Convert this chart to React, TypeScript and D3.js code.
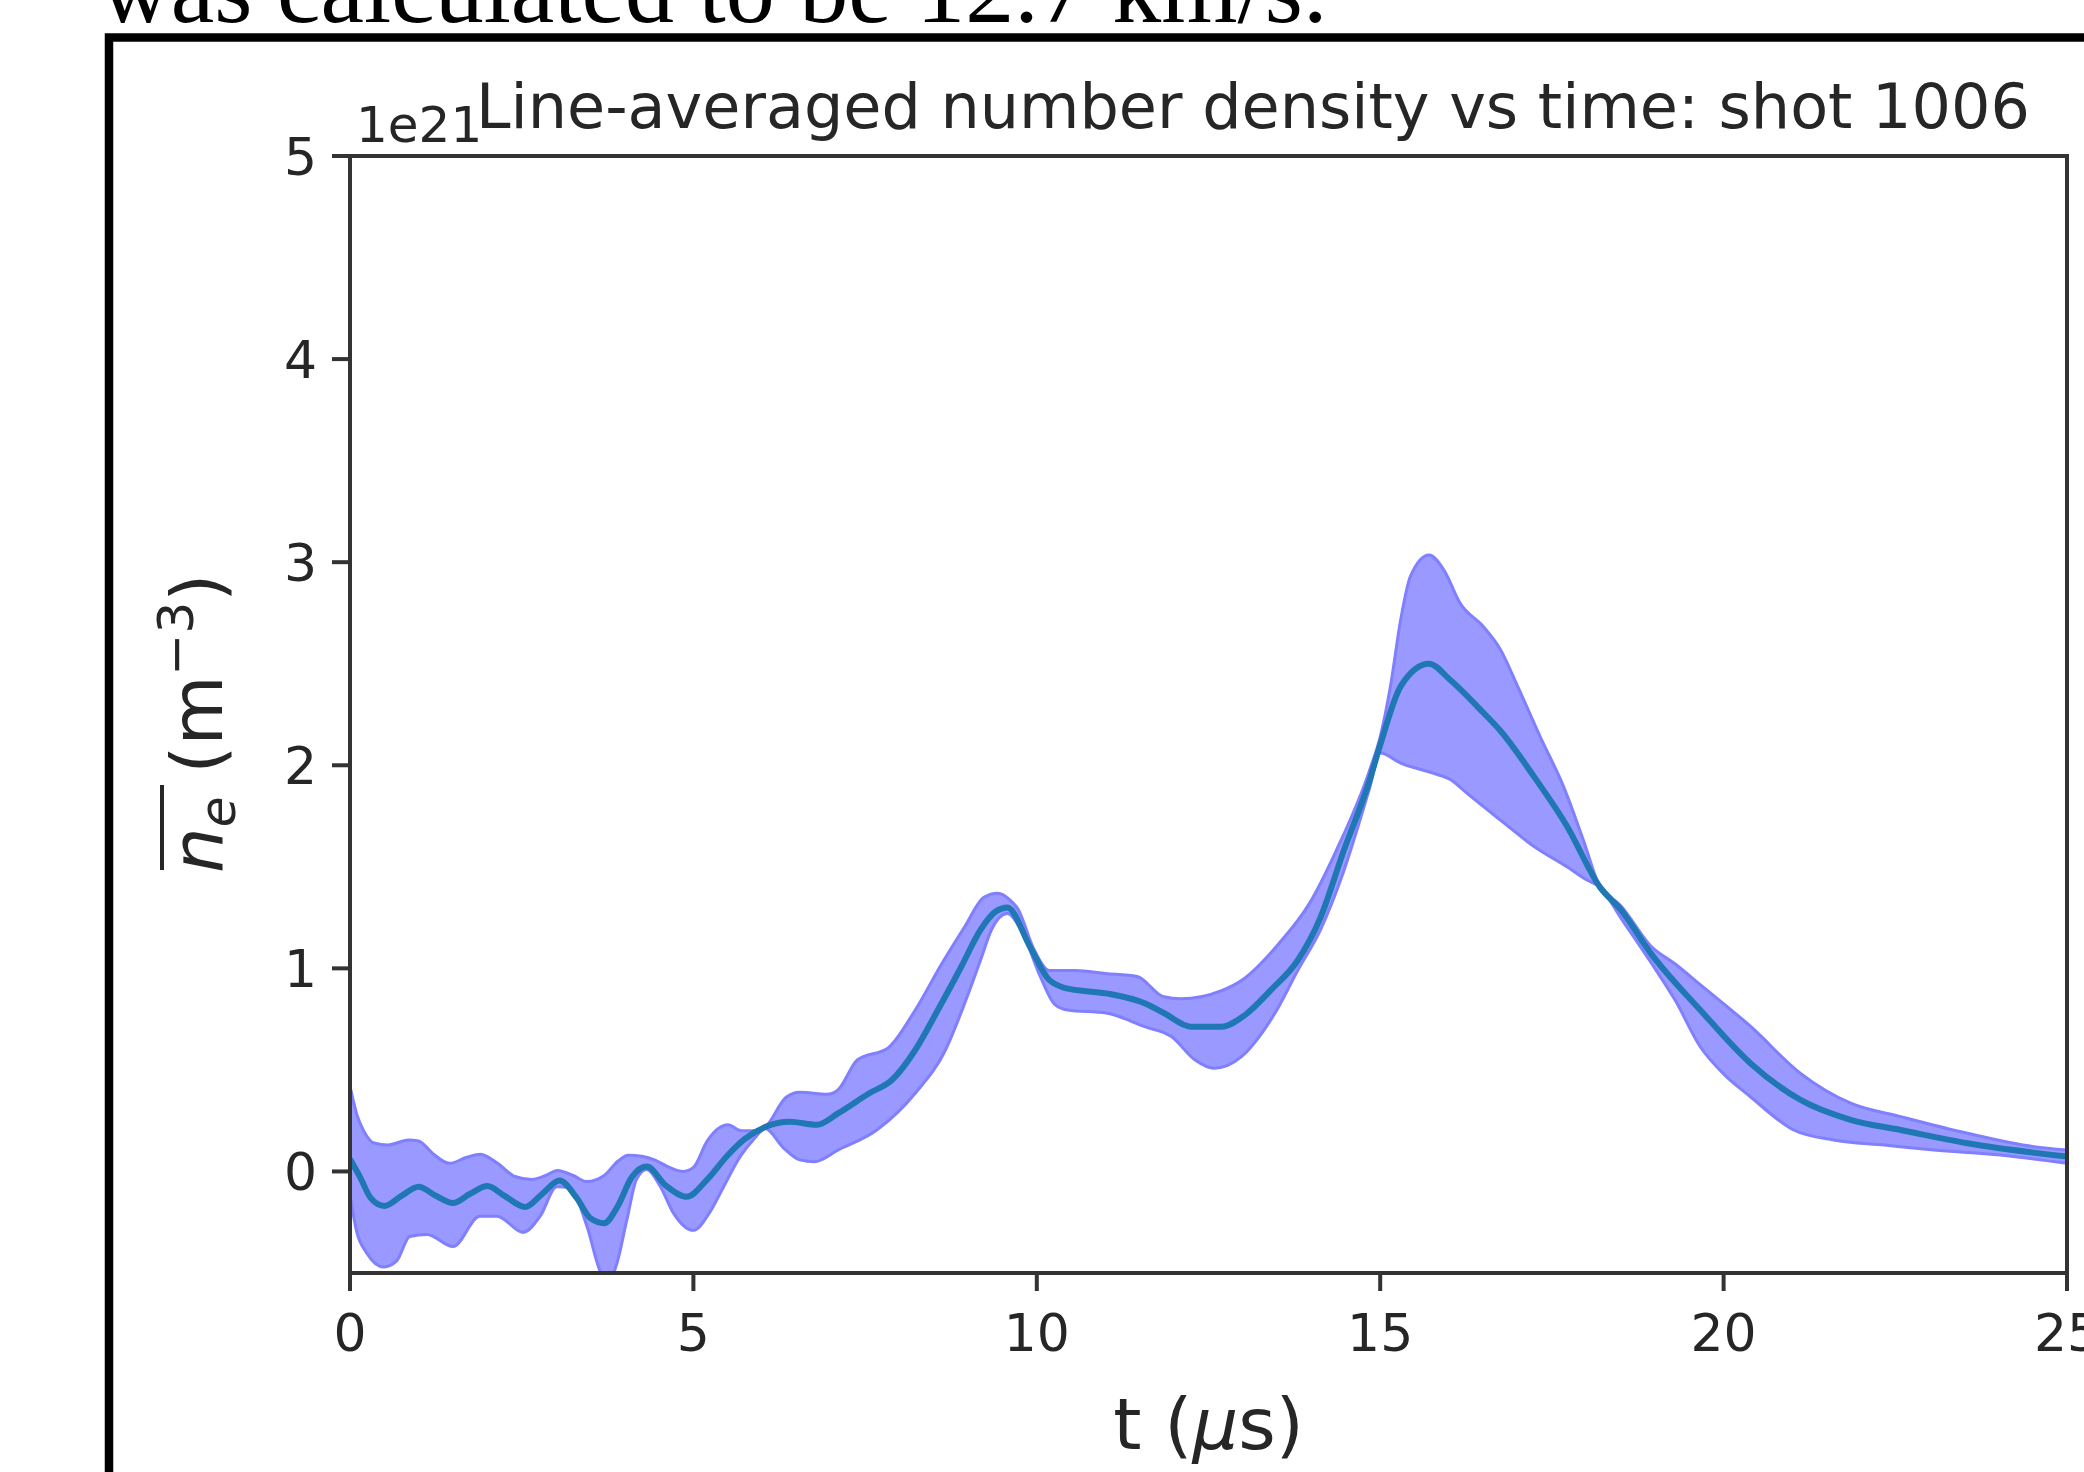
import React from "react";
import * as d3 from "d3";

// line-averaged density, units of 1e21 m^-3, time in microseconds
const tMean = [0, 0.15, 0.3, 0.5, 0.75, 1.0, 1.25, 1.5, 1.75, 2.0, 2.25, 2.55, 2.8, 3.05, 3.3, 3.5, 3.7, 3.9, 4.1, 4.32, 4.6, 4.9, 5.2, 5.5, 5.75, 6.05, 6.4, 6.8, 7.11, 7.56, 7.89, 8.23, 8.56, 8.9, 9.18, 9.4, 9.57, 9.9, 10.18, 10.45, 11.01, 11.57, 11.85, 12.24, 12.69, 13.03, 13.41, 13.8, 14.13, 14.47, 14.84, 15.0, 15.3, 15.71, 16.02, 16.51, 16.75, 17.24, 17.72, 18.2, 18.5, 18.94, 19.66, 20.39, 21.12, 21.85, 22.58, 23.55, 25];
const nMean = [0.06, -0.03, -0.13, -0.17, -0.12, -0.075, -0.12, -0.155, -0.11, -0.072, -0.12, -0.175, -0.11, -0.045, -0.13, -0.23, -0.255, -0.17, -0.03, 0.024, -0.07, -0.125, -0.04, 0.08, 0.16, 0.22, 0.245, 0.23, 0.287, 0.385, 0.45, 0.598, 0.795, 1.008, 1.19, 1.28, 1.3, 1.107, 0.943, 0.9, 0.877, 0.828, 0.78, 0.713, 0.713, 0.77, 0.894, 1.04, 1.25, 1.58, 1.92, 2.1, 2.39, 2.5, 2.42, 2.256, 2.17, 1.944, 1.7, 1.4, 1.29, 1.074, 0.795, 0.533, 0.352, 0.254, 0.204, 0.139, 0.073];

const tUpper = [0, 0.1, 0.2, 0.35, 0.55, 0.85, 1.0, 1.2, 1.45, 1.7, 1.9, 2.15, 2.4, 2.65, 2.85, 3.02, 3.25, 3.45, 3.7, 3.9, 4.05, 4.25, 4.45, 4.65, 4.85, 5.0, 5.2, 5.4, 5.5, 5.7, 5.9, 6.05, 6.35, 6.55, 6.95, 7.1, 7.39, 7.84, 8.23, 8.62, 8.95, 9.23, 9.43, 9.6, 9.73, 9.95, 10.18, 10.56, 11.0, 11.46, 11.85, 12.1, 12.69, 12.98, 13.52, 13.97, 14.36, 14.84, 15.0, 15.15, 15.3, 15.44, 15.71, 15.93, 16.16, 16.51, 16.75, 17.0, 17.33, 17.67, 17.96, 18.2, 18.5, 18.94, 19.3, 19.66, 20.39, 21.12, 21.85, 22.58, 23.55, 24.52, 25];
const nUpper = [0.42, 0.28, 0.2, 0.14, 0.13, 0.155, 0.15, 0.09, 0.04, 0.07, 0.085, 0.04, -0.025, -0.04, -0.02, 0.005, -0.02, -0.05, -0.02, 0.05, 0.08, 0.075, 0.055, 0.02, 0.0, 0.02, 0.15, 0.22, 0.23, 0.2, 0.2, 0.22, 0.365, 0.39, 0.38, 0.4, 0.55, 0.61, 0.795, 1.025, 1.205, 1.35, 1.37, 1.34, 1.29, 1.1, 0.99, 0.99, 0.975, 0.96, 0.86, 0.85, 0.89, 0.94, 1.12, 1.32, 1.58, 1.97, 2.14, 2.39, 2.72, 2.93, 3.035, 2.96, 2.8, 2.68, 2.57, 2.39, 2.14, 1.895, 1.63, 1.4, 1.31, 1.11, 1.02, 0.92, 0.715, 0.483, 0.336, 0.27, 0.188, 0.122, 0.105];

const tLower = [0, 0.1, 0.24, 0.49, 0.68, 0.87, 1.12, 1.5, 1.89, 2.14, 2.52, 2.77, 3.01, 3.2, 3.45, 3.64, 3.74, 3.88, 4.03, 4.17, 4.32, 4.52, 4.71, 5.0, 5.24, 5.44, 5.68, 5.87, 6.05, 6.3, 6.55, 6.76, 7.11, 7.67, 8.23, 8.67, 8.95, 9.18, 9.34, 9.57, 9.8, 10.05, 10.26, 10.45, 11.01, 11.57, 11.96, 12.3, 12.58, 12.98, 13.24, 13.52, 13.8, 14.13, 14.47, 14.84, 15.0, 15.3, 15.78, 16.02, 16.27, 16.75, 17.24, 17.72, 18.01, 18.2, 18.5, 18.94, 19.3, 19.66, 20.0, 20.39, 21.02, 21.6, 22.34, 23.06, 24.03, 25];
const nLower = [-0.12, -0.3, -0.4, -0.47, -0.44, -0.32, -0.31, -0.37, -0.22, -0.22, -0.3, -0.22, -0.075, -0.08, -0.27, -0.49, -0.55, -0.46, -0.24, -0.04, 0.01, -0.075, -0.205, -0.29, -0.2, -0.075, 0.073, 0.155, 0.21, 0.12, 0.057, 0.048, 0.106, 0.204, 0.385, 0.598, 0.828, 1.04, 1.19, 1.27, 1.17, 0.96, 0.823, 0.795, 0.78, 0.713, 0.664, 0.55, 0.508, 0.565, 0.664, 0.81, 0.99, 1.19, 1.48, 1.88, 2.06, 2.01, 1.96, 1.93, 1.86, 1.73, 1.6, 1.5, 1.435, 1.4, 1.25, 1.03, 0.84, 0.614, 0.48, 0.368, 0.204, 0.155, 0.13, 0.106, 0.081, 0.04];

const xTicks = [0, 5, 10, 15, 20, 25];
const yTicks = [0, 1, 2, 3, 4, 5];

const W = 2084;
const H = 1472;
const plot = { left: 350, right: 2067, top: 156, bottom: 1273 };
const FONT = "'DejaVu Sans', sans-serif";
const INK = "#262626";

export default function App() {
  const x = d3.scaleLinear().domain([0, 25]).range([plot.left, plot.right]);
  const y = d3.scaleLinear().domain([-0.5, 5]).range([plot.bottom, plot.top]);

  const line = d3
    .line<[number, number]>()
    .x((d) => x(d[0]))
    .y((d) => y(d[1]))
    .curve(d3.curveMonotoneX);

  const meanD = line(tMean.map((t, i) => [t, nMean[i]] as [number, number])) || "";
  const upD = line(tUpper.map((t, i) => [t, nUpper[i]] as [number, number])) || "";
  const loD =
    line(tLower.map((t, i) => [t, nLower[i]] as [number, number]).reverse()) || "";
  const bandD = upD + loD.replace(/^M/, "L") + "Z";

  return (
    <div style={{ position: "absolute", left: 0, top: 0, width: W, height: H, overflow: "hidden", background: "#fff" }}>
      <svg width={W} height={H} style={{ display: "block" }}>
        <rect width={W} height={H} fill="#fff" />

        {/* cut-off sentence from the page above the figure */}
        <text x={100} y={22} fontFamily="'Liberation Serif', serif" fontSize={98} fill="#000">
          was calculated to be 12.7 km/s.
        </text>

        {/* figure frame */}
        <rect x={109} y={37.5} width={2100} height={1500} fill="none" stroke="#000" strokeWidth={8.5} />

        <defs>
          <clipPath id="plotclip">
            <rect x={plot.left} y={plot.top} width={plot.right - plot.left} height={plot.bottom - plot.top} />
          </clipPath>
        </defs>

        <g clipPath="url(#plotclip)">
          <path d={bandD} fill="#9999ff" stroke="#7f7fff" strokeWidth={3} strokeLinejoin="round" />
          <path d={meanD} fill="none" stroke="#1f77b4" strokeWidth={6} strokeLinejoin="round" />
        </g>

        {/* spines */}
        <rect
          x={plot.left}
          y={plot.top}
          width={plot.right - plot.left}
          height={plot.bottom - plot.top}
          fill="none"
          stroke="#333"
          strokeWidth={4}
        />

        {xTicks.map((t) => (
          <g key={"x" + t}>
            <line x1={x(t)} x2={x(t)} y1={plot.bottom} y2={plot.bottom + 18} stroke="#333" strokeWidth={4} />
            <text x={x(t)} y={1351} textAnchor="middle" fontFamily={FONT} fontSize={52} fill={INK}>
              {t}
            </text>
          </g>
        ))}

        {yTicks.map((v) => (
          <g key={"y" + v}>
            <line x1={plot.left - 18} x2={plot.left} y1={y(v)} y2={y(v)} stroke="#333" strokeWidth={4} />
            <text x={317} y={y(v)} dy="0.36em" textAnchor="end" fontFamily={FONT} fontSize={52} fill={INK}>
              {v}
            </text>
          </g>
        ))}

        {/* offset text + title */}
        <text x={356} y={142} fontFamily={FONT} fontSize={50} fill={INK}>
          1e21
        </text>
        <text x={476} y={128} fontFamily={FONT} fontSize={62} fill={INK}>
          Line-averaged number density vs time: shot 1006
        </text>

        {/* x label */}
        <text x={(plot.left + plot.right) / 2} y={1449} textAnchor="middle" fontFamily={FONT} fontSize={72} fill={INK}>
          t (<tspan fontStyle="italic">μ</tspan>s)
        </text>

        {/* y label */}
        <g transform="translate(222,873) rotate(-90)">
          <text x={0} y={0} fontFamily={FONT} fontSize={72} fill={INK}>
            <tspan fontStyle="italic">n</tspan>
            <tspan fontSize={50} dy={13} fontStyle="italic">e</tspan>
            <tspan dy={-13}> (m</tspan>
            <tspan fontSize={50} dy={-29}>−3</tspan>
            <tspan dy={29}>)</tspan>
          </text>
          <line x1={3} x2={88} y1={-60} y2={-60} stroke={INK} strokeWidth={4} />
        </g>
      </svg>
    </div>
  );
}
